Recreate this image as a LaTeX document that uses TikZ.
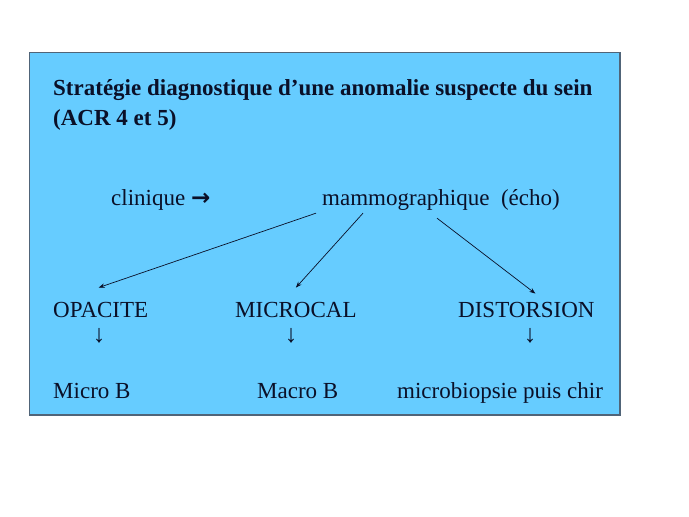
\documentclass[tikz,border=0pt]{standalone}
\usepackage{fontspec}
\setmainfont{Liberation Serif}
\newfontfamily\symbfont{DejaVu Sans}
\usetikzlibrary{arrows.meta}
\definecolor{fond}{RGB}{102,204,255}
\definecolor{bord}{RGB}{80,100,120}
\definecolor{encre}{RGB}{10,16,40}
\tikzstyle{texte}=[anchor=base west,inner sep=0pt,text=encre,font=\fontsize{23}{27}\selectfont]
\tikzstyle{titre}=[texte,font=\fontsize{23}{27}\selectfont\bfseries]
\tikzstyle{fleche}=[anchor=base,inner sep=0pt,text=encre,font=\fontsize{25}{29}\selectfont]
\tikzstyle{lien}=[draw,encre,line width=0.7pt,-{Stealth[length=6pt,width=4.5pt]}]

\begin{document}
\begin{tikzpicture}[x=1pt,y=-1pt]
    \useasboundingbox (0,0) rectangle (689,517);
    % cadre
    \draw[bord,line width=1.2pt,fill=fond] (29.5,52.5) rectangle (620,415);
    % titre
    \node[titre] (titre1) at (53,95) {Stratégie diagnostique d’une anomalie suspecte du sein};
    \node[titre] (titre2) at (53,125) {(ACR 4 et 5)};
    % examen
    \node[texte] (clin) at (111,205) {clinique {\symbfont\bfseries →}};
    \node[texte] (mammo) at (322,205) {mammographique\ \ (écho)};
    % lesions
    \foreach \pos/\name/\txt in {{(53,317)/opac/OPACITE}, {(235,317)/micro/MICROCAL}, {(458,317)/dist/DISTORSION}}
        \node[texte] (\name) at \pos {\txt};
    % fleches
    \foreach \pos/\name in {{(99,342)/fopac}, {(291,342)/fmicro}, {(530,342)/fdist}}
        \node[fleche] (\name) at \pos {↓};
    % conduite
    \foreach \pos/\name/\txt in {{(53,398)/microb/Micro B}, {(257,398)/macrob/Macro B}, {(397,398)/biop/microbiopsie puis chir}}
        \node[texte] (\name) at \pos {\txt};
    % liens
    \path[lien] ([xshift=-6pt,yshift=-3pt]mammo.south west) -- ([xshift=-2pt,yshift=14pt]opac.north);
    \path[lien] ([xshift=41pt,yshift=-3pt]mammo.south west) -- ([yshift=14pt]micro.north);
    \path[lien] ([xshift=115pt,yshift=-8pt]mammo.south west) -- ([xshift=9pt,yshift=8pt]dist.north);
\end{tikzpicture}
\end{document}
